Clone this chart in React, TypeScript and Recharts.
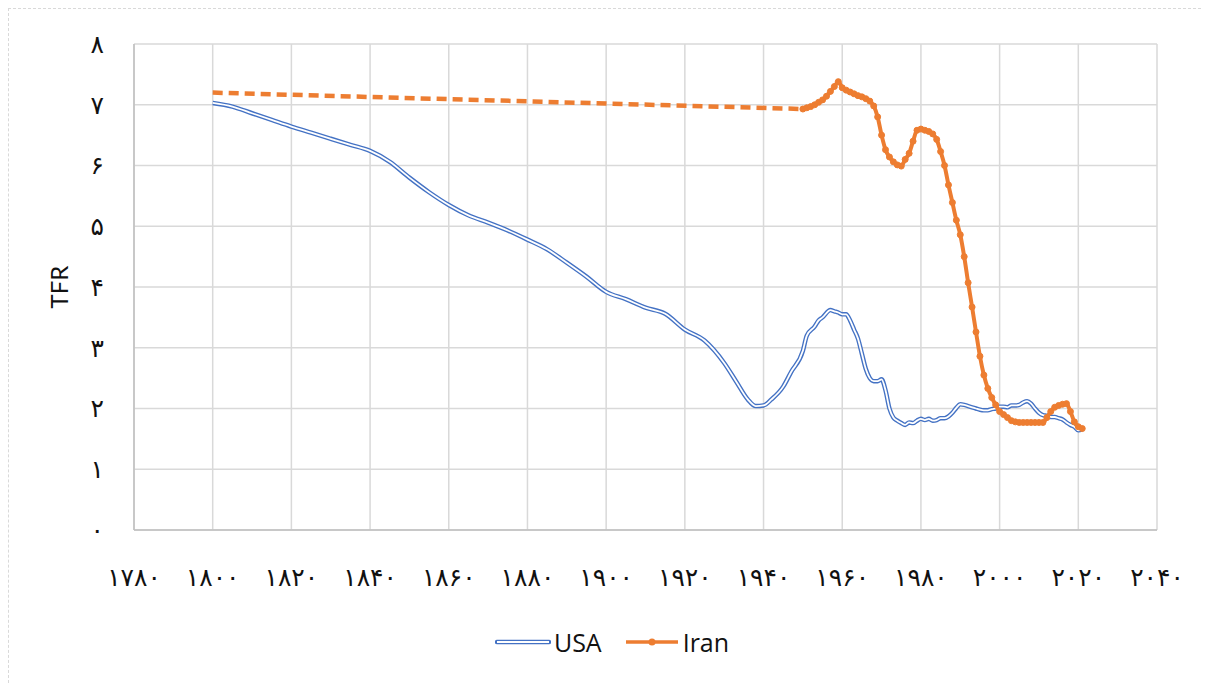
import { LineChart, Line, XAxis, YAxis, CartesianGrid, Legend } from 'recharts';

const usaYears = [
  1800, 1805, 1810, 1815, 1820, 1825, 1830, 1835, 1840, 1845, 1850, 1855, 1860, 1865, 1870, 1875,
  1880, 1885, 1890, 1895, 1900, 1905, 1910, 1915, 1920, 1925, 1930, 1933, 1936, 1938, 1940, 1942,
  1945, 1947, 1950, 1951, 1953, 1954, 1955, 1957, 1958, 1959, 1960, 1961, 1962, 1963, 1964, 1965,
  1966, 1967, 1968, 1969, 1970, 1971, 1972, 1973, 1974, 1975, 1976, 1977, 1978, 1979, 1980, 1981,
  1982, 1983, 1984, 1985, 1986, 1987, 1988, 1989, 1990, 1991, 1992, 1993, 1994, 1995, 1996, 1997,
  1998, 1999, 2000, 2001, 2002, 2003, 2004, 2005, 2006, 2007, 2008, 2009, 2010, 2011, 2012, 2013,
  2014, 2015, 2016, 2017, 2018, 2019, 2020, 2021,
];
const usaTfr = [
  7.03, 6.97, 6.86, 6.75, 6.64, 6.54, 6.44, 6.34, 6.24, 6.06, 5.8, 5.56, 5.35, 5.18, 5.06, 4.93,
  4.78, 4.62, 4.4, 4.17, 3.92, 3.8, 3.66, 3.56, 3.3, 3.12, 2.75, 2.45, 2.15, 2.04, 2.05, 2.15,
  2.36, 2.6, 2.95, 3.2, 3.35, 3.45, 3.5, 3.62, 3.6, 3.58, 3.55, 3.55, 3.45, 3.3, 3.15, 2.9,
  2.65, 2.5, 2.45, 2.45, 2.48, 2.3, 2.0, 1.85, 1.8, 1.76, 1.73, 1.77, 1.76, 1.8, 1.83, 1.81,
  1.83, 1.8, 1.81, 1.84, 1.84, 1.87, 1.93, 2.01, 2.07, 2.06, 2.04, 2.02, 2.0, 1.98, 1.97, 1.97,
  1.99, 2.0, 2.03, 2.03, 2.02, 2.05, 2.05, 2.06, 2.1, 2.12, 2.08, 2.0, 1.93, 1.89, 1.88, 1.86,
  1.86, 1.84, 1.82, 1.77, 1.73, 1.7, 1.64, 1.66,
];

// early Iran estimate, drawn dashed without markers
const iranEarlyYears = [1800, 1950];
const iranEarlyTfr = [7.2, 6.93];

const iranYears = [
  1950, 1951, 1952, 1953, 1954, 1955, 1956, 1957, 1958, 1959, 1960, 1961, 1962, 1963, 1964, 1965,
  1966, 1967, 1968, 1969, 1970, 1971, 1972, 1973, 1974, 1975, 1976, 1977, 1978, 1979, 1980, 1981,
  1982, 1983, 1984, 1985, 1986, 1987, 1988, 1989, 1990, 1991, 1992, 1993, 1994, 1995, 1996, 1997,
  1998, 1999, 2000, 2001, 2002, 2003, 2004, 2005, 2006, 2007, 2008, 2009, 2010, 2011, 2012, 2013,
  2014, 2015, 2016, 2017, 2018, 2019, 2020, 2021,
];
const iranTfr = [
  6.93, 6.95, 6.97, 7.0, 7.04, 7.08, 7.14, 7.22, 7.3, 7.38, 7.28, 7.24, 7.21, 7.18, 7.15, 7.13,
  7.1, 7.06, 6.98, 6.8, 6.5, 6.26, 6.14, 6.06, 6.01, 5.99, 6.1, 6.2, 6.4, 6.58, 6.6, 6.58,
  6.56, 6.52, 6.43, 6.23, 6.0, 5.68, 5.39, 5.1, 4.86, 4.5, 4.07, 3.67, 3.26, 2.86, 2.55, 2.33,
  2.18, 2.06, 1.95, 1.9, 1.85, 1.8, 1.78, 1.77, 1.77, 1.77, 1.77, 1.77, 1.77, 1.77, 1.85, 1.95,
  2.02, 2.05, 2.07, 2.08, 1.95, 1.78, 1.7, 1.67,
];

const xTicks = [1780, 1800, 1820, 1840, 1860, 1880, 1900, 1920, 1940, 1960, 1980, 2000, 2020, 2040];
const yTicks = [0, 1, 2, 3, 4, 5, 6, 7, 8];

const usaData = usaYears.map((year, i) => ({ year, tfr: usaTfr[i] }));
const iranEarlyData = iranEarlyYears.map((year, i) => ({ year, tfr: iranEarlyTfr[i] }));
const iranData = iranYears.map((year, i) => ({ year, tfr: iranTfr[i] }));

const BLUE = '#4472C4';
const ORANGE = '#ED7D31';
const GRID = '#d9d9d9';

const toPersian = (v: number) => String(v).replace(/\d/g, (d) => '۰۱۲۳۴۵۶۷۸۹'[Number(d)]);

const renderLegend = () => (
  <div
    style={{
      display: 'flex',
      justifyContent: 'center',
      alignItems: 'center',
      gap: 22,
      fontFamily: '"Open Sans", Lato, sans-serif',
      fontSize: 25,
      color: '#111',
      paddingLeft: 58,
    }}
  >
    <div style={{ display: 'flex', alignItems: 'center', gap: 3 }}>
      <svg width={56} height={10}>
        <line x1={2} y1={5} x2={54} y2={5} stroke={BLUE} strokeWidth={4.5} strokeLinecap="round" />
        <line x1={2} y1={5} x2={54} y2={5} stroke="#fff" strokeWidth={2} />
      </svg>
      <span>USA</span>
    </div>
    <div style={{ display: 'flex', alignItems: 'center', gap: 3 }}>
      <svg width={56} height={10}>
        <line x1={2} y1={5} x2={54} y2={5} stroke={ORANGE} strokeWidth={3.5} />
        <circle cx={28} cy={5} r={3.5} fill={ORANGE} />
      </svg>
      <span>Iran</span>
    </div>
  </div>
);

export default function App() {
  return (
    <div
      style={{
        width: 1203,
        height: 675,
        borderTop: '1.5px dashed #d9d9d9',
        borderLeft: '1.5px dashed #d9d9d9',
        boxSizing: 'border-box',
        background: '#fff',
      }}
    >
      <LineChart width={1200} height={670} margin={{ top: 35, right: 52, left: 0, bottom: 40 }}>
        <CartesianGrid stroke={GRID} strokeWidth={1.5} />
        <XAxis
          type="number"
          dataKey="year"
          domain={[1780, 2040]}
          ticks={xTicks}
          tickFormatter={toPersian}
          tick={{ fill: '#111', fontSize: 25, fontFamily: '"DejaVu Sans", sans-serif' }}
          tickLine={false}
          tickSize={0}
          tickMargin={38}
          axisLine={{ stroke: '#bfbfbf', strokeWidth: 1.5 }}
          height={75}
          allowDuplicatedCategory={false}
        />
        <YAxis
          type="number"
          domain={[0, 8]}
          ticks={yTicks}
          tickFormatter={toPersian}
          tick={{ fill: '#111', fontSize: 25, fontFamily: '"DejaVu Sans", sans-serif' }}
          tickLine={false}
          tickSize={0}
          tickMargin={30}
          axisLine={{ stroke: '#bfbfbf', strokeWidth: 1.5 }}
          width={125}
          label={{
            value: 'TFR',
            angle: -90,
            position: 'insideLeft',
            offset: 50,
            style: { fill: '#111', fontSize: 24, fontFamily: 'Lato, "Open Sans", sans-serif', textAnchor: 'middle' },
          }}
        />
        <Line
          data={usaData}
          dataKey="tfr"
          name="USA"
          type="monotone"
          stroke={BLUE}
          strokeWidth={4.5}
          dot={false}
          activeDot={false}
          isAnimationActive={false}
        />
        <Line
          data={usaData}
          dataKey="tfr"
          name="USA-inner"
          legendType="none"
          type="monotone"
          stroke="#fff"
          strokeWidth={1.8}
          dot={false}
          activeDot={false}
          isAnimationActive={false}
        />
        <Line
          data={iranEarlyData}
          dataKey="tfr"
          name="Iran-early"
          legendType="none"
          type="linear"
          stroke={ORANGE}
          strokeWidth={4.5}
          strokeDasharray="10 6"
          dot={false}
          activeDot={false}
          isAnimationActive={false}
        />
        <Line
          data={iranData}
          dataKey="tfr"
          name="Iran"
          type="monotone"
          stroke={ORANGE}
          strokeWidth={4}
          dot={{ r: 3, fill: ORANGE, stroke: ORANGE, strokeWidth: 1 }}
          activeDot={false}
          isAnimationActive={false}
        />
        <Legend content={renderLegend} verticalAlign="bottom" wrapperStyle={{ bottom: 20 }} />
      </LineChart>
    </div>
  );
}
